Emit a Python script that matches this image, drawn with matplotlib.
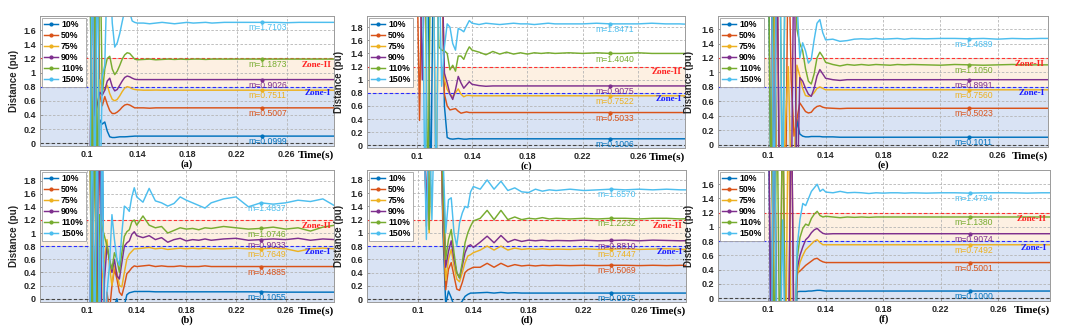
import matplotlib
matplotlib.use("Agg")
import matplotlib.pyplot as plt
from matplotlib.font_manager import FontProperties

nan = float("nan")

# shared time base (s)
T = [0.100, 0.102, 0.104, 0.106, 0.108, 0.110, 0.112, 0.114, 0.116, 0.118,
     0.120, 0.122, 0.124, 0.126, 0.128, 0.130, 0.132, 0.134, 0.136, 0.138, 0.140,
     0.145, 0.150, 0.155, 0.160, 0.165, 0.170, 0.175, 0.180, 0.185, 0.190, 0.195,
     0.200, 0.210, 0.220, 0.230, 0.240, 0.250, 0.260, 0.270, 0.280, 0.290, 0.300]

LABELS = ["10%", "50%", "75%", "90%", "110%", "150%"]
XTICKS = [0.10, 0.14, 0.18, 0.22, 0.26]
XTICKLABELS = ["0.1", "0.14", "0.18", "0.22", "0.26"]
ZONE1 = 0.8
ZONE2 = 1.2
TIP_T = 0.24

# ---------------- panel (a) ----------------
A10 = [nan, 3, -1, 3, -1, 0.33, 0.27, 0.30, 0.17, 0.09,
       0.08, 0.08, 0.085, 0.09, 0.09, 0.09, 0.092, 0.095, 0.097, 0.10, 0.10,
       0.10, 0.10, 0.10, 0.10, 0.10, 0.10, 0.10, 0.10, 0.10, 0.10, 0.10,
       0.10, 0.10, 0.10, 0.10, 0.10, 0.10, 0.10, 0.10, 0.10, 0.10, 0.10]
A50 = [nan, -1, 3, -1, 3, 0.68, 0.53, 0.66, 0.55, 0.46,
       0.42, 0.42, 0.44, 0.47, 0.51, 0.54, 0.55, 0.54, 0.52, 0.50, 0.50,
       0.50, 0.495, 0.50, 0.50, 0.50, 0.50, 0.50, 0.50, 0.50, 0.50, 0.50,
       0.50, 0.50, 0.50, 0.50, 0.50, 0.50, 0.50, 0.50, 0.50, 0.50, 0.50]
A75 = [nan, 3, -1, 3, -1, 0.90, 0.80, 0.75, 0.82, 0.70,
       0.62, 0.60, 0.62, 0.67, 0.73, 0.78, 0.80, 0.79, 0.77, 0.76, 0.755,
       0.75, 0.75, 0.752, 0.75, 0.75, 0.75, 0.75, 0.75, 0.75, 0.75, 0.75,
       0.75, 0.75, 0.75, 0.75, 0.75, 0.75, 0.75, 0.75, 0.75, 0.75, 0.75]
A90 = [nan, -1, 3, 0.39, 0.55, 0.72, 0.68, 0.75, 0.88, 0.92,
       0.80, 0.74, 0.76, 0.82, 0.88, 0.93, 0.95, 0.94, 0.92, 0.905, 0.90,
       0.90, 0.90, 0.90, 0.90, 0.90, 0.90, 0.90, 0.90, 0.90, 0.90, 0.90,
       0.90, 0.90, 0.90, 0.90, 0.90, 0.90, 0.90, 0.90, 0.90, 0.90, 0.90]
A110 = [nan, 3, -1, 3, -1, 3, 0.70, 1.05, 1.20, 1.23,
        1.05, 0.97, 1.02, 1.10, 1.19, 1.25, 1.28, 1.27, 1.23, 1.19, 1.18,
        1.185, 1.19, 1.18, 1.185, 1.19, 1.185, 1.19, 1.185, 1.19, 1.19, 1.185,
        1.19, 1.19, 1.19, 1.19, 1.19, 1.19, 1.19, 1.19, 1.19, 1.19, 1.19]
A150 = [nan, -1, 3, -1, 3, -1, 0.95, 1.10, 2.5, 2.5,
        1.70, 1.36, 1.42, 1.55, 1.72, 1.88, 1.90, 1.85, 1.73, 1.71, 1.70,
        1.70, 1.69, 1.70, 1.71, 1.70, 1.69, 1.70, 1.71, 1.70, 1.705, 1.71,
        1.70, 1.71, 1.71, 1.71, 1.71, 1.71, 1.705, 1.71, 1.71, 1.71, 1.71]
MA = [0.0999, 0.5007, 0.7511, 0.9026, 1.1873, 1.7103]

# ---------------- panel (b) ----------------
B10 = [nan, nan, 3, -1, 3, -1, 3, -1, -0.5, -0.3,
       -0.2, -0.1, 0.0, -0.2, -0.3, -0.1, 0.06, 0.09, 0.10, 0.11, 0.11,
       0.11, 0.11, 0.105, 0.105, 0.105, 0.105, 0.105, 0.105, 0.105, 0.105, 0.105,
       0.105, 0.105, 0.105, 0.105, 0.105, 0.10, 0.10, 0.10, 0.10, 0.10, 0.10]
B50 = [nan, 3, -1, 3, -1, 3, -1, -0.5, 0.1, -0.2,
       0.2, 0.45, 0.30, 0.10, 0.05, 0.20, 0.38, 0.42, 0.47, 0.50, 0.49,
       0.50, 0.51, 0.49, 0.50, 0.49, 0.49, 0.50, 0.49, 0.49, 0.49, 0.50,
       0.49, 0.49, 0.49, 0.49, 0.49, 0.49, 0.49, 0.49, 0.49, 0.49, 0.49]
B75 = [nan, nan, 3, -1, 3, -1, 0.3, 0.6, 0.9, 0.5,
       0.2, 0.50, 0.40, 0.20, 0.18, 0.40, 0.60, 0.68, 0.72, 0.76, 0.76,
       0.77, 0.78, 0.76, 0.77, 0.75, 0.76, 0.77, 0.76, 0.77, 0.76, 0.77,
       0.76, 0.76, 0.77, 0.76, 0.76, 0.77, 0.76, 0.72, 0.76, 0.77, 0.76]
B90 = [nan, -1, 3, -1, 0.40, 3, -1, 0.3, 0.8, 0.6,
       0.4, 0.60, 0.35, 0.30, 0.55, 0.80, 0.85, 0.88, 0.98, 1.02, 0.96,
       0.93, 0.96, 0.90, 0.93, 0.86, 0.90, 0.92, 0.88, 0.90, 0.89, 0.91,
       0.89, 0.91, 0.92, 0.89, 0.90, 0.91, 0.90, 0.92, 0.89, 0.91, 0.90]
B110 = [nan, 3, -1, 3, -1, 1.28, 1.10, 0.95, 0.80, 0.60,
        0.45, 0.70, 0.60, 0.40, 0.70, 0.95, 1.02, 1.05, 1.17, 1.20, 1.12,
        1.26, 1.12, 1.08, 1.10, 1.00, 1.04, 1.08, 1.06, 1.07, 1.05, 1.08,
        1.07, 1.10, 1.08, 1.06, 1.07, 1.09, 1.06, 1.08, 1.03, 1.09, 1.12]
B150 = [nan, -1, 3, -1, 3, -1, 3, -1, 0.1, 0.5,
        1.28, 0.90, 0.60, 0.51, 1.00, 1.41, 1.38, 1.33, 1.55, 1.69, 1.55,
        1.47, 1.68, 1.49, 1.46, 1.41, 1.45, 1.55, 1.50, 1.46, 1.42, 1.38,
        1.46, 1.52, 1.55, 1.40, 1.46, 1.44, 1.46, 1.50, 1.48, 1.52, 1.41]
MB = [0.1055, 0.4885, 0.7649, 0.9033, 1.0746, 1.4837]

# ---------------- panel (c) ----------------
C10 = [nan, nan, 3, 3, 3, -1, 3, 3, 3, 3,
       0.60, 0.12, 0.10, 0.095, 0.10, 0.105, 0.10, 0.095, 0.095, 0.10, 0.10,
       0.10, 0.10, 0.10, 0.10, 0.10, 0.10, 0.10, 0.10, 0.10, 0.10, 0.10,
       0.10, 0.10, 0.10, 0.10, 0.10, 0.10, 0.10, 0.10, 0.10, 0.10, 0.10]
C50 = [3, 0.38, 3, 3, 3, 3, 3, 3, 3, 3,
       0.78, 0.60, 0.54, 0.55, 0.56, 0.52, 0.49, 0.50, 0.51, 0.50, 0.50,
       0.50, 0.50, 0.50, 0.50, 0.50, 0.50, 0.50, 0.50, 0.50, 0.50, 0.50,
       0.50, 0.50, 0.50, 0.50, 0.50, 0.50, 0.50, 0.50, 0.50, 0.50, 0.50]
C75 = [nan, nan, 3, 3, 3, 3, 3, -1, 3, 3,
       1.00, 0.85, 0.78, 0.74, 0.80, 0.86, 0.78, 0.74, 0.76, 0.76, 0.755,
       0.755, 0.755, 0.755, 0.755, 0.755, 0.755, 0.755, 0.755, 0.755, 0.755, 0.755,
       0.755, 0.755, 0.755, 0.755, 0.755, 0.755, 0.755, 0.755, 0.755, 0.755, 0.755]
C90 = [3, 3, 1.0, 3, 3, 3, 3, 3, 3, 3,
       1.10, 0.95, 0.78, 0.70, 0.85, 1.05, 0.95, 0.87, 0.92, 0.97, 0.93,
       0.91, 0.90, 0.905, 0.905, 0.905, 0.905, 0.905, 0.905, 0.905, 0.905, 0.905,
       0.905, 0.905, 0.905, 0.905, 0.905, 0.905, 0.905, 0.905, 0.905, 0.905, 0.905]
C110 = [nan, nan, 3, 3, -1, 3, 3, 3, 1.50, 1.45,
        1.44, 1.40, 1.15, 1.22, 1.13, 1.36, 1.36, 1.31, 1.42, 1.50, 1.45,
        1.42, 1.38, 1.43, 1.39, 1.42, 1.39, 1.41, 1.39, 1.41, 1.40, 1.41,
        1.40, 1.41, 1.40, 1.41, 1.40, 1.40, 1.41, 1.40, 1.40, 1.40, 1.40]
C150 = [nan, nan, 3, -1, 3, 3, 3, -1, 3, 0.90,
        1.50, 1.85, 1.80, 1.55, 1.45, 1.78, 1.76, 1.73, 1.82, 1.90, 1.86,
        1.84, 1.86, 1.85, 1.84, 1.85, 1.86, 1.85, 1.85, 1.84, 1.85, 1.86,
        1.85, 1.85, 1.85, 1.86, 1.85, 1.85, 1.85, 1.86, 1.85, 1.85, 1.84]
MC = [0.1006, 0.5033, 0.7522, 0.9075, 1.4040, 1.8471]

# ---------------- panel (d) ----------------
D10 = [nan, nan, 3, 3, 1.2, 3, 3, 3, 3, 1.0,
       -0.08, 0.12, 0.02, -0.10, -0.20, -0.08, -0.03, 0.04, 0.07, 0.09, 0.09,
       0.095, 0.10, 0.09, 0.10, 0.09, 0.095, 0.09, 0.09, 0.09, 0.09, 0.09,
       0.09, 0.09, 0.09, 0.09, 0.09, 0.09, 0.09, 0.09, 0.09, 0.09, 0.09]
D50 = [nan, nan, 3, 1.1, 3, 3, 3, 3, 3, 1.2,
       0.14, 0.45, 0.55, 0.35, 0.15, 0.13, 0.25, 0.40, 0.44, 0.46, 0.48,
       0.48, 0.54, 0.48, 0.54, 0.49, 0.52, 0.50, 0.51, 0.50, 0.51, 0.505,
       0.51, 0.505, 0.51, 0.505, 0.51, 0.51, 0.505, 0.51, 0.505, 0.51, 0.505]
D75 = [nan, nan, 3, 3, 1.0, 3, 3, 3, 3, 1.4,
       0.28, 0.60, 0.75, 0.50, 0.30, 0.26, 0.40, 0.55, 0.65, 0.67, 0.70,
       0.74, 0.80, 0.74, 0.80, 0.74, 0.77, 0.75, 0.76, 0.75, 0.76, 0.75,
       0.755, 0.75, 0.76, 0.75, 0.755, 0.76, 0.75, 0.755, 0.76, 0.75, 0.755]
D90 = [nan, nan, 3, 1.2, 3, 3, 3, 3, 3, 1.6,
       0.48, 0.72, 0.88, 0.60, 0.40, 0.32, 0.50, 0.70, 0.80, 0.82, 0.78,
       0.86, 0.95, 0.85, 0.96, 0.86, 0.90, 0.87, 0.89, 0.88, 0.89, 0.88,
       0.885, 0.88, 0.89, 0.88, 0.885, 0.89, 0.88, 0.89, 0.885, 0.88, 0.885]
D110 = [nan, nan, 3, 3, 1.05, 3, 3, 3, 3, 1.8,
        0.60, 0.90, 1.05, 0.70, 0.40, 0.32, 0.55, 0.85, 1.00, 1.10, 1.18,
        1.22, 1.34, 1.20, 1.34, 1.20, 1.24, 1.20, 1.22, 1.21, 1.23, 1.21,
        1.22, 1.21, 1.22, 1.21, 1.22, 1.22, 1.21, 1.22, 1.22, 1.21, 1.22]
D150 = [nan, nan, 3, 0.9, 3, 1.2, 3, 3, 3, 2.2,
        1.00, 1.50, 1.53, 1.00, 0.80, 1.15, 1.30, 1.40, 1.38, 1.62, 1.70,
        1.66, 1.80, 1.66, 1.78, 1.64, 1.68, 1.62, 1.61, 1.66, 1.63, 1.65,
        1.64, 1.66, 1.64, 1.65, 1.66, 1.65, 1.66, 1.65, 1.66, 1.65, 1.65]
MD = [0.0975, 0.5069, 0.7447, 0.8810, 1.2232, 1.6570]

# ---------------- panel (e) ----------------
E10 = [3, -1, 3, -1, -1, -1, -1, -1, -1, -1,
       0.35, 0.15, 0.12, 0.11, 0.11, 0.115, 0.115, 0.115, 0.115, 0.11, 0.11,
       0.11, 0.105, 0.105, 0.105, 0.105, 0.105, 0.105, 0.105, 0.105, 0.105, 0.105,
       0.105, 0.105, 0.105, 0.105, 0.105, 0.105, 0.105, 0.105, 0.105, 0.105, 0.105]
E50 = [nan, 3, -1, 3, -1, -1, -1, 3, 0.90, 0.12,
       0.35, 0.58, 0.52, 0.46, 0.44, 0.45, 0.50, 0.53, 0.54, 0.52, 0.51,
       0.505, 0.50, 0.505, 0.505, 0.505, 0.505, 0.505, 0.505, 0.505, 0.505, 0.505,
       0.505, 0.505, 0.505, 0.505, 0.505, 0.505, 0.505, 0.505, 0.505, 0.505, 0.505]
E75 = [nan, -1, 3, -1, -1, -1, 0.30, 1.08, -0.5, -0.5,
       1.10, 0.95, 0.78, 0.68, 0.67, 0.68, 0.72, 0.78, 0.80, 0.78, 0.76,
       0.76, 0.76, 0.76, 0.76, 0.76, 0.76, 0.76, 0.76, 0.76, 0.76, 0.76,
       0.76, 0.76, 0.76, 0.76, 0.76, 0.76, 0.76, 0.76, 0.76, 0.76, 0.76]
E90 = [nan, 3, -1, 3, -1, -1, -1, -1, -1, 3,
       -1, 0.93, 0.88, 0.78, 0.70, 0.67, 0.78, 0.95, 1.04, 0.98, 0.92,
       0.90, 0.89, 0.90, 0.90, 0.90, 0.90, 0.90, 0.90, 0.90, 0.90, 0.90,
       0.90, 0.90, 0.90, 0.90, 0.90, 0.90, 0.90, 0.90, 0.90, 0.90, 0.90]
E110 = [3, -1, 3, 3, 3, -1, 3, 3, 3, 3,
        1.60, 1.40, 1.30, 1.05, 0.88, 0.84, 0.98, 1.20, 1.28, 1.22, 1.14,
        1.11, 1.09, 1.11, 1.10, 1.11, 1.10, 1.11, 1.105, 1.10, 1.11, 1.105,
        1.11, 1.105, 1.10, 1.11, 1.105, 1.10, 1.105, 1.11, 1.105, 1.105, 1.105]
E150 = [nan, 3, -1, 3, 3, -1, 3, 3, 3, 3,
        2.00, 1.20, 1.41, 1.30, 1.13, 1.18, 1.45, 1.68, 1.73, 1.55, 1.45,
        1.46, 1.43, 1.44, 1.46, 1.465, 1.46, 1.47, 1.46, 1.465, 1.47, 1.46,
        1.47, 1.465, 1.47, 1.47, 1.465, 1.47, 1.46, 1.47, 1.465, 1.47, 1.47]
ME = [0.1011, 0.5023, 0.7560, 0.8991, 1.1050, 1.4689]

# ---------------- panel (f) ----------------
F10 = [3, -1, 3, -1, -1, -1, -1, -1, -1, -1,
       0.09, 0.095, 0.095, 0.095, 0.10, 0.10, 0.105, 0.11, 0.11, 0.105, 0.10,
       0.10, 0.10, 0.10, 0.10, 0.10, 0.10, 0.10, 0.10, 0.10, 0.10, 0.10,
       0.10, 0.10, 0.10, 0.10, 0.10, 0.10, 0.10, 0.10, 0.10, 0.10, 0.10]
F50 = [nan, 3, -1, -1, -1, 3, -1, -1, 3, -1,
       0.35, 0.38, 0.42, 0.46, 0.49, 0.52, 0.55, 0.56, 0.53, 0.51, 0.50,
       0.50, 0.50, 0.50, 0.50, 0.50, 0.50, 0.50, 0.50, 0.50, 0.50, 0.50,
       0.50, 0.50, 0.50, 0.50, 0.50, 0.50, 0.50, 0.50, 0.50, 0.50, 0.50]
F75 = [nan, -1, 3, -1, -1, -1, -1, 3, -1, -1,
       0.30, 0.50, 0.60, 0.68, 0.72, 0.76, 0.80, 0.82, 0.78, 0.75, 0.75,
       0.75, 0.75, 0.75, 0.75, 0.75, 0.75, 0.75, 0.75, 0.75, 0.75, 0.75,
       0.75, 0.75, 0.75, 0.75, 0.75, 0.75, 0.75, 0.75, 0.75, 0.75, 0.75]
F90 = [3, -1, 3, -1, -1, -1, -1, -1, 3, -1,
       0.40, 0.60, 0.72, 0.82, 0.86, 0.92, 0.96, 0.98, 0.94, 0.91, 0.90,
       0.905, 0.905, 0.905, 0.905, 0.905, 0.905, 0.905, 0.905, 0.905, 0.905, 0.905,
       0.905, 0.905, 0.905, 0.905, 0.905, 0.905, 0.905, 0.905, 0.905, 0.905, 0.905]
F110 = [nan, 3, -1, 3, -1, 3, -1, -1, -1, -1,
        0.55, 0.85, 0.98, 1.04, 1.02, 1.12, 1.18, 1.22, 1.16, 1.14, 1.15,
        1.14, 1.13, 1.14, 1.135, 1.14, 1.135, 1.14, 1.14, 1.14, 1.14, 1.14,
        1.14, 1.14, 1.14, 1.14, 1.14, 1.14, 1.14, 1.14, 1.14, 1.14, 1.14]
F150 = [nan, -1, 3, -1, -1, 1.10, -1, -1, -1, -1,
        0.70, 1.10, 1.33, 1.30, 1.40, 1.50, 1.55, 1.60, 1.50, 1.53, 1.49,
        1.48, 1.50, 1.48, 1.485, 1.48, 1.47, 1.48, 1.475, 1.48, 1.48, 1.475,
        1.48, 1.475, 1.48, 1.48, 1.475, 1.48, 1.48, 1.48, 1.475, 1.48, 1.48]
MF = [0.1000, 0.5001, 0.7492, 0.9074, 1.1380, 1.4794]

# ---------------- styling ----------------
COLORS = ["#0072BD", "#D95319", "#EDB120", "#7E2F8E", "#77AC30", "#4DBEEE"]
FILL_Z1 = "#d9e3f4"
FILL_Z2 = "#fdf0e2"
W, H = 1080, 331

# (tag, series, m-values, axes px box [left, top, right, bottom], xlim, ylim, ytick max, ylabel offset px)
PANELS = [
    ("(a)", [A10, A50, A75, A90, A110, A150], MA, (40, 16, 334, 146), (0.062, 0.298), (-0.04, 1.80), 1.6, 21),
    ("(b)", [B10, B50, B75, B90, B110, B150], MB, (40, 170, 334, 302), (0.062, 0.299), (-0.05, 1.96), 1.8, 21),
    ("(c)", [C10, C50, C75, C90, C110, C150], MC, (367, 16, 685, 148), (0.064, 0.294), (-0.04, 1.97), 1.8, 23),
    ("(d)", [D10, D50, D75, D90, D110, D150], MD, (367, 170, 686, 302), (0.063, 0.294), (-0.045, 1.95), 1.8, 23),
    ("(e)", [E10, E50, E75, E90, E110, E150], ME, (718, 16, 1048, 147), (0.065, 0.295), (-0.03, 1.78), 1.6, 24),
    ("(f)", [F10, F50, F75, F90, F110, F150], MF, (718, 170, 1050, 301), (0.065, 0.296), (-0.04, 1.80), 1.6, 24),
]

sans_b = FontProperties(family="Liberation Sans", weight="bold", size=6.5)
leg_font = FontProperties(family="Liberation Sans", weight="bold", size=6.3)
ylab_font = FontProperties(family="Liberation Sans", weight="bold", size=7.0)
serif_b = FontProperties(family="Liberation Serif", weight="bold", size=8)
zone_font = FontProperties(family="Liberation Serif", weight="bold", size=6.6)
tag_font = FontProperties(family="Liberation Serif", weight="bold", size=7.5)

tip_idx = T.index(TIP_T)

fig = plt.figure(figsize=(W / 100, H / 100), dpi=100)
fig.patch.set_facecolor("white")

for tag, series, mvals, box, xlim, ylim, ytop, yoff in PANELS:
    l, t, r, b = box
    ax = fig.add_axes([l / W, 1 - b / H, (r - l) / W, (b - t) / H])
    for s in series:
        assert len(s) == len(T)
    ax.set_xlim(*xlim)
    ax.set_ylim(*ylim)

    ax.axhspan(ylim[0], ZONE1, color=FILL_Z1, lw=0, zorder=0)
    ax.axhspan(ZONE1, ZONE2, color=FILL_Z2, lw=0, zorder=0)
    ax.axhline(ZONE2, color="#ff3030", ls=(0, (3, 2)), lw=0.8, zorder=1.7)
    ax.axhline(ZONE1, color="#2a2aff", ls=(0, (3, 2)), lw=0.8, zorder=1.7)
    ax.axhline(0.0, color="#444444", ls=(0, (3, 2)), lw=0.8, zorder=1.7)

    for s, c, lab, m in zip(series, COLORS, LABELS, mvals):
        ax.plot(T, s, color=c, lw=1.05, marker=".", ms=4, markevery=[tip_idx],
                label=lab, zorder=2)
        ax.annotate(f"m={m:.4f}", xy=(0.2295, s[tip_idx]), xytext=(0, -0.8),
                    textcoords="offset points", ha="left", va="top",
                    fontsize=6.2, family="Liberation Sans", color=c, zorder=3)

    ax.grid(True, color="#b5b5b5", ls=(0, (3, 2)), lw=0.6)
    ax.set_xticks(XTICKS)
    ax.set_xticklabels(XTICKLABELS)
    yt = [round(0.2 * i, 1) for i in range(int(round(ytop / 0.2)) + 1)]
    ax.set_yticks(yt)
    ax.set_yticklabels([f"{v:g}" for v in yt])
    for lbl in ax.get_xticklabels() + ax.get_yticklabels():
        lbl.set_fontproperties(sans_b)
        lbl.set_color("#262626")
    ax.tick_params(direction="in", length=2, width=0.5, color="#888888", pad=3)
    for sp in ax.spines.values():
        sp.set_color("#9a9a9a")
        sp.set_linewidth(0.7)

    ax.set_ylabel("Distance (pu)", fontproperties=ylab_font, color="#262626")
    ax.yaxis.set_label_coords(-yoff / (r - l), 0.5)

    ax.text(0.99, 1.11, "Zone-II", color="#ff2020", fontproperties=zone_font,
            ha="right", va="center", transform=ax.get_yaxis_transform(), zorder=3)
    ax.text(0.99, 0.71, "Zone-I", color="#1a1aff", fontproperties=zone_font,
            ha="right", va="center", transform=ax.get_yaxis_transform(), zorder=3)

    ax.text(1.0, -9.0 / (b - t), "Time(s)", fontproperties=serif_b,
            ha="right", va="center", transform=ax.transAxes)
    ax.text(0.5, -18.0 / (b - t), tag, fontproperties=tag_font,
            ha="center", va="center", transform=ax.transAxes)

    leg = ax.legend(loc="upper left", prop=leg_font, handlelength=1.5,
                    handletextpad=0.4, labelspacing=0.22, borderpad=0.3,
                    borderaxespad=0.2, fancybox=False, framealpha=1.0)
    leg.get_frame().set_edgecolor("#a0a0a0")
    leg.get_frame().set_linewidth(0.6)
    leg.set_zorder(5)

fig.savefig("out.png", dpi=100, facecolor="white")
